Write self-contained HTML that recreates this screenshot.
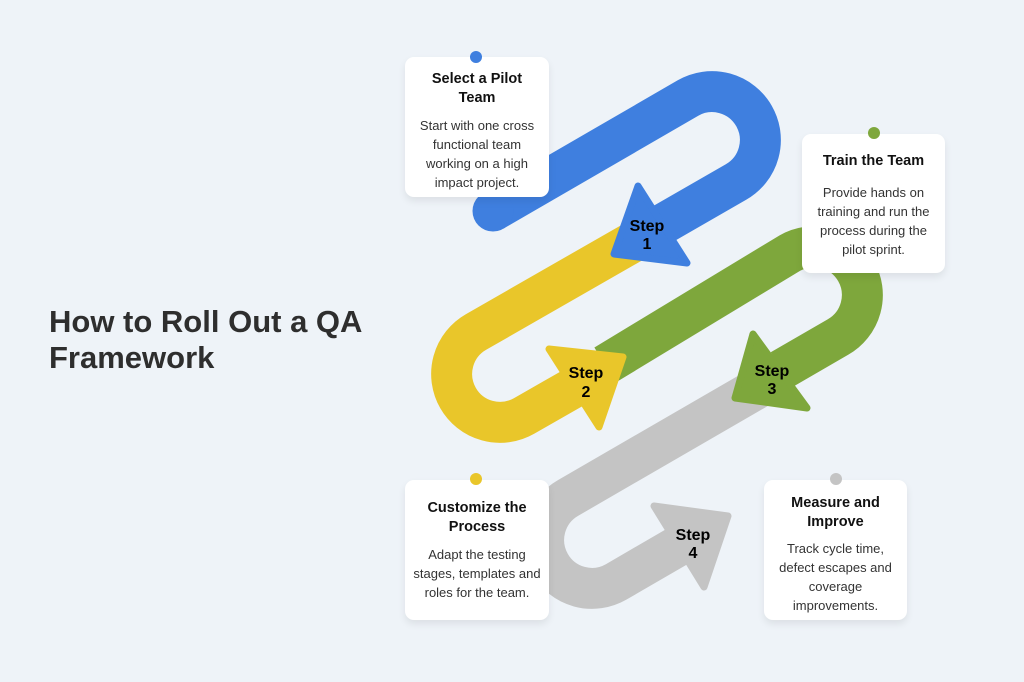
<!DOCTYPE html>
<html><head><meta charset="utf-8"><style>
html,body{margin:0;padding:0;}
body{width:1024px;height:682px;background:#eef3f8;position:relative;overflow:hidden;font-family:"Liberation Sans",sans-serif;}
.h{position:absolute;left:49px;top:304px;font-size:31px;font-weight:bold;color:#2e2e2e;line-height:36px;}
.card{position:absolute;background:#fff;border-radius:9px;box-shadow:0 4px 8px rgba(0,0,0,0.08);text-align:center;color:#222;}
.card .t{font-weight:bold;font-size:14.5px;line-height:19px;color:#111;}
.card .b{font-size:13px;line-height:19px;color:#333;}
.dot{position:absolute;width:12px;height:12px;border-radius:50%;}
</style></head><body>
<div class="h">How to Roll Out a QA<br>Framework</div>
<svg width="1024" height="682" style="position:absolute;left:0;top:0">
<g fill="none" stroke-width="41" stroke-linecap="butt">
<path d="M 770 381 L 568 498 A 48 48 0 0 0 616 582 L 678 546" stroke="#c4c4c4"/>
<path d="M 605 365 L 790 253 A 48 48 0 0 1 838 337 L 781 370" stroke="#7ea73c"/>
<path d="M 640 238 L 476 332 A 48 48 0 0 0 524 416 L 573 388" stroke="#e9c62a"/>
<path d="M 493 211 L 688 98 A 48 48 0 0 1 736 182 L 663 224" stroke="#3f7fdf"/>
</g>
<circle cx="493" cy="211" r="20.5" fill="#3f7fdf"/>
<g stroke-linejoin="round" stroke-width="7">
<polygon points="638,186 687,263 614,254" fill="#3f7fdf" stroke="#3f7fdf"/>
<polygon points="549,349 623,357 599,427" fill="#e9c62a" stroke="#e9c62a"/>
<polygon points="753,334 807,408 735,398" fill="#7ea73c" stroke="#7ea73c"/>
<polygon points="654,506 728,516 704,587" fill="#c4c4c4" stroke="#c4c4c4"/>
</g>
<g font-family="Liberation Sans, sans-serif" font-weight="bold" font-size="16" fill="#000" text-anchor="middle">
<text x="647" y="231">Step</text><text x="647" y="249">1</text>
<text x="586" y="378">Step</text><text x="586" y="397">2</text>
<text x="772" y="376">Step</text><text x="772" y="394">3</text>
<text x="693" y="540">Step</text><text x="693" y="558">4</text>
</g>
</svg>
<div class="card" style="left:405px;top:57px;width:144px;height:140px;">
<div class="t" style="margin-top:13px">Select a Pilot<br>Team</div>
<div class="b" style="margin-top:8px">Start with one cross<br>functional team<br>working on a high<br>impact project.</div></div>
<div class="dot" style="left:470px;top:51px;background:#3f7fdf"></div>
<div class="card" style="left:802px;top:134px;width:143px;height:139px;">
<div class="t" style="margin-top:18px">Train the Team</div>
<div class="b" style="margin-top:12px">Provide hands on<br>training and run the<br>process during the<br>pilot sprint.</div></div>
<div class="dot" style="left:868px;top:127px;background:#7ea73c"></div>
<div class="card" style="left:405px;top:480px;width:144px;height:140px;">
<div class="t" style="margin-top:19px">Customize the<br>Process</div>
<div class="b" style="margin-top:8px">Adapt the testing<br>stages, templates and<br>roles for the team.</div></div>
<div class="dot" style="left:470px;top:473px;background:#e9c62a"></div>
<div class="card" style="left:764px;top:480px;width:143px;height:140px;">
<div class="t" style="margin-top:14px">Measure and<br>Improve</div>
<div class="b" style="margin-top:7px">Track cycle time,<br>defect escapes and<br>coverage<br>improvements.</div></div>
<div class="dot" style="left:830px;top:473px;background:#c4c4c4"></div>
</body></html>
